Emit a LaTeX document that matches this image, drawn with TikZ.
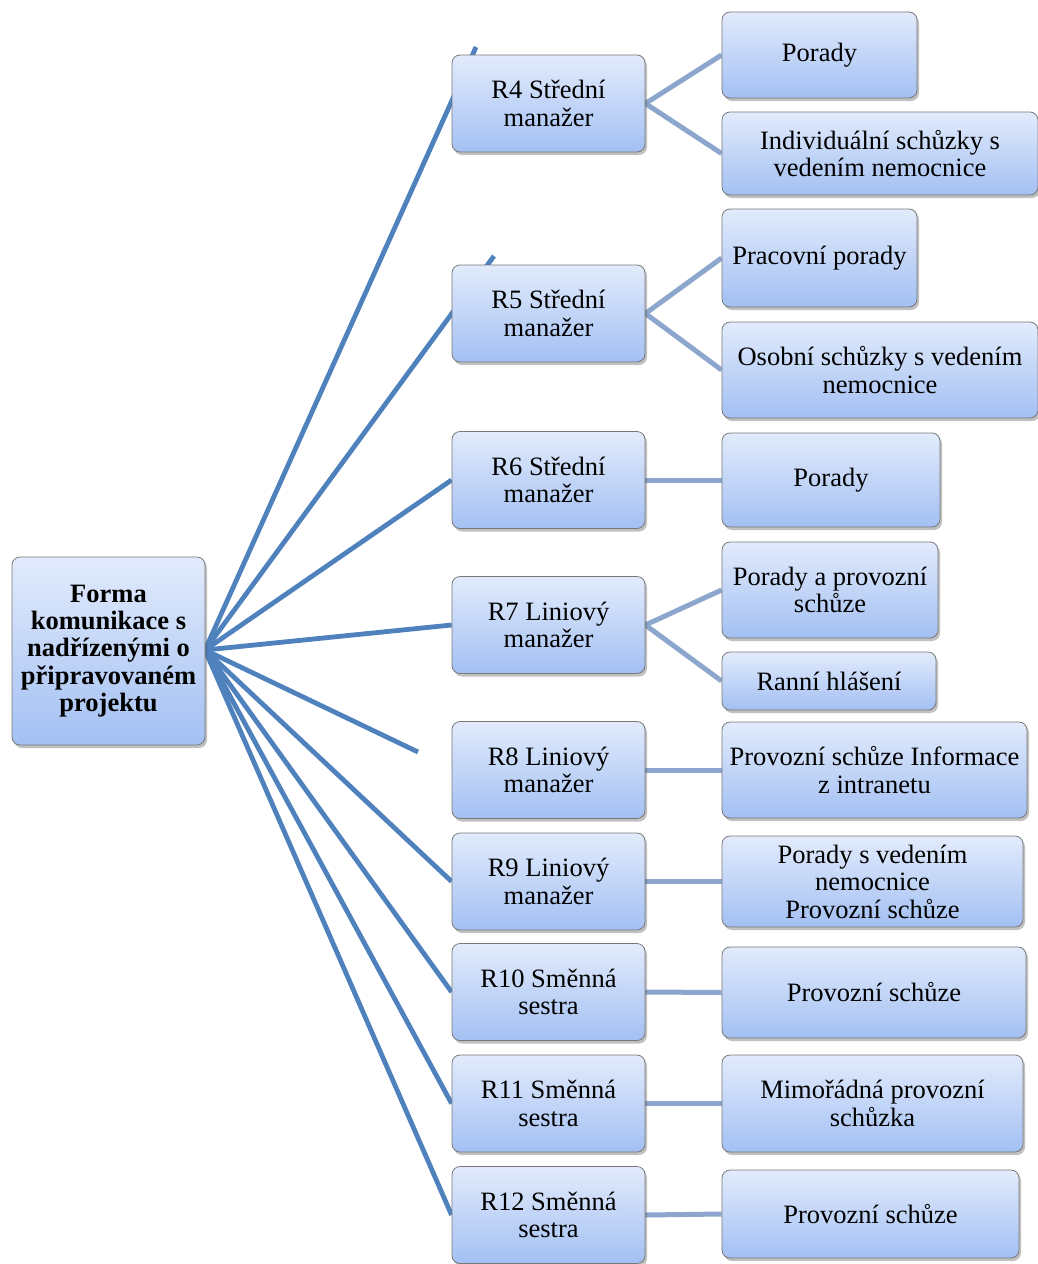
\documentclass[tikz,border=0pt]{standalone}
\usepackage{fontspec}
\setmainfont{Liberation Serif}
\usetikzlibrary{shadows,backgrounds}

\definecolor{trunk}{RGB}{79,129,189}
\definecolor{twig}{RGB}{141,166,206}
\definecolor{boxtop}{RGB}{226,235,252}
\definecolor{boxbot}{RGB}{163,192,243}
\definecolor{boxline}{RGB}{120,120,120}

\tikzset{
  box/.style={draw=boxline, line width=0.8pt, rounded corners=8pt,
    top color=boxtop, bottom color=boxbot, align=center, inner sep=0pt,
    font=\fontsize{26.5}{27.5}\selectfont,
    drop shadow={shadow xshift=2pt, shadow yshift=-3pt, opacity=0.35, fill=black!70}},
  rolebox/.style={box, minimum width=193pt, minimum height=97pt},
  rootbox/.style={box, minimum width=193pt, minimum height=188pt,
    font=\fontsize{26.5}{27.3}\selectfont\bfseries},
  trunkline/.style={draw=trunk, line width=4.8pt},
  twigline/.style={draw=twig, line width=5pt},
}

\begin{document}
\begin{tikzpicture}[x=1pt, y=-1pt]
\useasboundingbox (0,0) rectangle (1038,1264);

% root
\node[rootbox] (root) at (108.5,651) {Forma\\komunikace s\\nadřízenými o\\připravovaném\\projektu};

% respondents
\node[rolebox] (r4)  at (548.5,103.5)  {R4 Střední\\manažer};
\node[rolebox] (r5)  at (548.5,313.5)  {R5 Střední\\manažer};
\node[rolebox] (r6)  at (548.5,480)    {R6 Střední\\manažer};
\node[rolebox] (r7)  at (548.5,625)    {R7 Liniový\\manažer};
\node[rolebox] (r8)  at (548.5,770)    {R8 Liniový\\manažer};
\node[rolebox] (r9)  at (548.5,881.5)  {R9 Liniový\\manažer};
\node[rolebox] (r10) at (548.5,992)    {R10 Směnná\\sestra};
\node[rolebox] (r11) at (548.5,1103.5) {R11 Směnná\\sestra};
\node[rolebox] (r12) at (548.5,1215)   {R12 Směnná\\sestra};

% forms of communication
\node[box, minimum width=195pt, minimum height=86pt] (c4a) at (819.5,55)   {Porady};
\node[box, minimum width=316pt, minimum height=83pt] (c4b) at (880,153.5)  {Individuální schůzky s\\vedením nemocnice};
\node[box, minimum width=195pt, minimum height=98pt] (c5a) at (819.5,258)  {Pracovní porady};
\node[box, minimum width=316pt, minimum height=96pt] (c5b) at (880,370)    {Osobní schůzky s vedením\\nemocnice};
\node[box, minimum width=218pt, minimum height=94pt] (c6)  at (831,480)    {Porady};
\node[box, minimum width=216pt, minimum height=96pt] (c7a) at (830,590)    {Porady a provozní\\schůze};
\node[box, minimum width=214pt, minimum height=58pt] (c7b) at (829,681)    {Ranní hlášení};
\node[box, minimum width=305pt, minimum height=96pt] (c8)  at (874.5,770)  {Provozní schůze Informace\\z intranetu};
\node[box, minimum width=301pt, minimum height=91pt] (c9)  at (872.5,881.5){Porady s vedením\\nemocnice\\Provozní schůze};
\node[box, minimum width=304pt, minimum height=91pt] (c10) at (874,992.5)  {Provozní schůze};
\node[box, minimum width=301pt, minimum height=97pt] (c11) at (872.5,1103.5){Mimořádná provozní\\schůzka};
\node[box, minimum width=297pt, minimum height=88pt] (c12) at (870.5,1214) {Provozní schůze};

% loose ends of the root connectors
\coordinate (e4) at (476,47);
\coordinate (e5) at (494,256);
\coordinate (e8) at (418,752);

\begin{scope}[on background layer]
  \coordinate (hub) at (205,650);
  \draw[trunkline] (hub) -- (e4);
  \draw[trunkline] (hub) -- (e5);
  \draw[trunkline] (hub) -- (r6.west);
  \draw[trunkline] (hub) -- (r7.west);
  \draw[trunkline] (hub) -- (e8);
  \draw[trunkline] (hub) -- (r9.west);
  \draw[trunkline] (hub) -- (r10.west);
  \draw[trunkline] (hub) -- (r11.west);
  \draw[trunkline] (hub) -- (r12.west);

  \draw[twigline] (r4.east) -- (c4a.west);
  \draw[twigline] (r4.east) -- (c4b.west);
  \draw[twigline] (r5.east) -- (c5a.west);
  \draw[twigline] (r5.east) -- (c5b.west);
  \draw[twigline] (r6.east) -- (c6.west);
  \draw[twigline] (r7.east) -- (c7a.west);
  \draw[twigline] (r7.east) -- (c7b.west);
  \draw[twigline] (r8.east) -- (c8.west);
  \draw[twigline] (r9.east) -- (c9.west);
  \draw[twigline] (r10.east) -- (c10.west);
  \draw[twigline] (r11.east) -- (c11.west);
  \draw[twigline] (r12.east) -- (c12.west);
\end{scope}
\end{tikzpicture}
\end{document}
